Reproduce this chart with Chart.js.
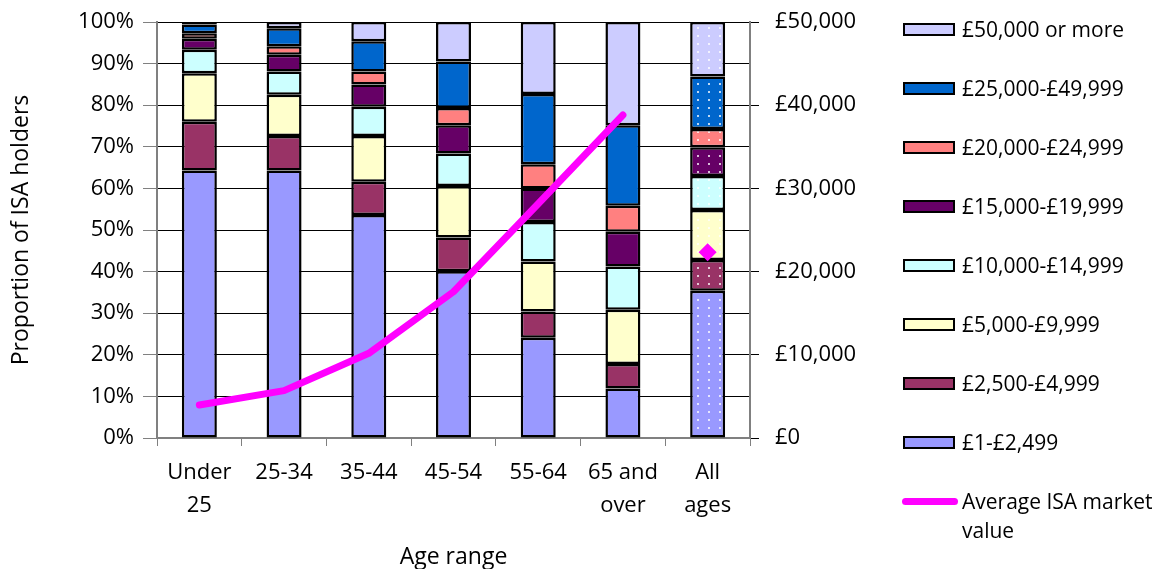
<!DOCTYPE html>
<html>
<head>
<meta charset="utf-8">
<script src="https://cdn.jsdelivr.net/npm/chart.js@4/dist/chart.umd.min.js"></script>
<style>
  html,body{margin:0;padding:0;background:#fff;}
  #wrap{position:relative;width:1154px;height:569px;overflow:hidden;}
  #legend{position:absolute;left:0;top:0;width:1154px;height:569px;pointer-events:none;font-family:"Open Sans",sans-serif;font-size:21px;color:#000;}
  .lbox{position:absolute;left:903px;width:52px;height:13px;box-sizing:border-box;border:2px solid #000;}
  .lline{position:absolute;left:902px;width:56px;height:7px;border-radius:4px;}
  .ltxt{position:absolute;left:962px;line-height:29px;white-space:nowrap;}
</style>
</head>
<body>
<div id="wrap">
  <canvas id="c" width="1154" height="569"></canvas>
  <div id="legend"></div>
</div>
<script>
// ---- data ----
const categories = [['Under','25'], '25-34', '35-44', '45-54', '55-64', ['65 and','over'], ['All','ages']];
const bandLabels = ['£1-£2,499','£2,500-£4,999','£5,000-£9,999','£10,000-£14,999','£15,000-£19,999','£20,000-£24,999','£25,000-£49,999','£50,000 or more'];
const band1 = [64.3, 64.3, 53.6, 40.1, 24.1, 11.9, 35.4];
const band2 = [11.7, 8.3, 8.0, 8.1, 6.3, 5.9, 7.4];
const band3 = [11.7, 9.9, 11.0, 12.4, 12.0, 13.0, 12.0];
const band4 = [5.6, 5.6, 7.0, 7.8, 9.5, 10.4, 8.2];
const band5 = [2.7, 4.0, 5.4, 6.8, 8.1, 8.4, 6.9];
const band6 = [1.3, 2.1, 3.1, 4.1, 5.8, 6.2, 4.4];
const band7 = [2.1, 4.3, 7.3, 11.2, 16.9, 19.4, 12.6];
const band8 = [0.6, 1.5, 4.6, 9.5, 17.3, 24.8, 13.1];
const avgValue = [3970, 5690, 10180, 17580, 28160, 38820, null];
const allAgesAvg = [null, null, null, null, null, null, 22320];
const lineLabel = 'Average ISA market value';
const leftTicks = [0,10,20,30,40,50,60,70,80,90,100];
const rightTicks = [0,10000,20000,30000,40000,50000];

// ---- styles ----
const bandColors = ['#9999FF','#993366','#FFFFCC','#CCFFFF','#660066','#FF8080','#0066CC','#CCCCFF'];
const bands = [band1, band2, band3, band4, band5, band6, band7, band8];
const FONT = '"Open Sans", sans-serif';

function dotted(color){
  const cv = document.createElement('canvas');
  cv.width = 11; cv.height = 8;
  const g = cv.getContext('2d');
  g.fillStyle = color; g.fillRect(0,0,11,8);
  g.fillStyle = 'rgba(255,255,255,0.75)';
  g.fillRect(4,3,2,2);
  return g.createPattern(cv, 'repeat');
}

const datasets = [];
datasets.push({
  type:'line', label: lineLabel, data: avgValue, yAxisID:'y1',
  borderColor:'#FF00FF', backgroundColor:'#FF00FF', borderWidth:7,
  borderCapStyle:'round', borderJoinStyle:'round', pointRadius:0, tension:0, order:0
});
datasets.push({
  type:'line', label: lineLabel + ' (all ages)', data: allAgesAvg, yAxisID:'y1',
  showLine:false, pointStyle:'rectRot', pointRadius:9, pointBackgroundColor:'#FF00FF',
  pointBorderWidth:0, borderColor:'#FF00FF', order:0
});
bands.forEach((arr,i)=>{
  const bg = arr.map((v,j)=> j === arr.length-1 ? dotted(bandColors[i]) : bandColors[i]);
  datasets.push({
    type:'bar', label: bandLabels[i], data: arr, yAxisID:'y',
    backgroundColor: bg, borderColor:'#000', borderWidth:2.5, borderSkipped:false,
    categoryPercentage:1, barPercentage:0.413, order:2, stack:'s'
  });
});

Chart.defaults.font.family = FONT;
Chart.defaults.color = '#000';

new Chart(document.getElementById('c'), {
  data:{ labels: categories, datasets },
  options:{
    responsive:false, animation:false,
    layout:{ padding:{ top:22, left:0, right:0, bottom:0 } },
    plugins:{ legend:{display:false}, tooltip:{enabled:false} },
    scales:{
      x:{
        stacked:true,
        grid:{ drawOnChartArea:false, drawTicks:true, tickLength:8, tickColor:'#808080', offset:true },
        border:{ color:'#808080', width:2 },
        ticks:{ font:{size:22, lineHeight:1.5}, padding:10, maxRotation:0, autoSkip:false },
        title:{ display:true, text:'Age range', font:{size:23, lineHeight:1}, padding:{top:0,bottom:0} },
        afterFit:(s)=>{ s.height = 131; }
      },
      y:{
        stacked:true, min:0, max:100,
        afterBuildTicks:(s)=>{ s.ticks = leftTicks.map(v=>({value:v})); },
        ticks:{ font:{size:22}, padding:9, callback:(v)=> v + '%' },
        grid:{ color:'#000', lineWidth:1, tickLength:14, tickColor:'#808080' },
        border:{ color:'#808080', width:2 },
        title:{ display:true, text:'Proportion of ISA holders', font:{size:23}, padding:{top:8,bottom:0} },
        afterFit:(s)=>{ s.width = 157; s.paddingTop = 0; s.paddingBottom = 0; }
      },
      y1:{
        position:'right', min:0, max:50000, stacked:false,
        afterBuildTicks:(s)=>{ s.ticks = rightTicks.map(v=>({value:v})); },
        ticks:{ font:{size:22}, padding:16, callback:(v)=> '£' + Number(v).toLocaleString('en-GB') },
        grid:{ drawOnChartArea:false, tickLength:9, tickColor:'#000' },
        border:{ color:'#808080', width:2 },
        afterFit:(s)=>{ s.width = 404; s.paddingTop = 0; s.paddingBottom = 0; }
      }
    }
  }
});

// ---- HTML legend ----
const legend = document.getElementById('legend');
const order = [7,6,5,4,3,2,1,0];
order.forEach((bi,k)=>{
  const cy = 29 + k*59;
  const b = document.createElement('div');
  b.className = 'lbox'; b.style.top = (cy-6.5)+'px'; b.style.background = bandColors[bi];
  legend.appendChild(b);
  const t = document.createElement('div');
  t.className = 'ltxt'; t.style.top = (cy-14.5)+'px'; t.textContent = bandLabels[bi];
  legend.appendChild(t);
});
{
  const cy = 29 + 8*59;
  const l = document.createElement('div');
  l.className = 'lline'; l.style.top = (cy-3.5)+'px'; l.style.background = '#FF00FF';
  legend.appendChild(l);
  const t = document.createElement('div');
  t.className = 'ltxt'; t.style.top = (cy-14.5)+'px';
  t.innerHTML = 'Average ISA market<br>value';
  legend.appendChild(t);
}
</script>
</body>
</html>
